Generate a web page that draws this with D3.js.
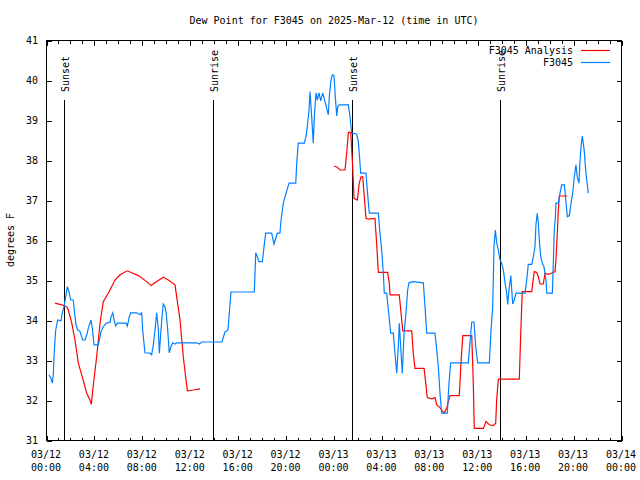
<!DOCTYPE html>
<html>
<head>
<meta charset="utf-8">
<script src="https://cdn.jsdelivr.net/npm/d3@7"></script>
<style>
  html, body { margin: 0; padding: 0; background: #fff; }
  svg { display: block; }
  text { font-family: "DejaVu Sans Mono", monospace; font-size: 10px; fill: #000; }
</style>
</head>
<body>
<svg id="chart" width="640" height="480"></svg>
<script>
// ---- data (hours since 2025-03-12 00:00 UTC, dew point in °F) ----
const titleText = "Dew Point for F3045 on 2025-Mar-12 (time in UTC)";
const yAxisLabel = "degrees F";
const seriesNames = ["F3045 Analysis", "F3045"];
const yTicks = [31, 32, 33, 34, 35, 36, 37, 38, 39, 40, 41];
const xTickHours = [0, 4, 8, 12, 16, 20, 24, 28, 32, 36, 40, 44, 48];
const xTickDates = ["03/12","03/12","03/12","03/12","03/12","03/12","03/13","03/13","03/13","03/13","03/13","03/13","03/14"];
const xTickTimes = ["00:00","04:00","08:00","12:00","16:00","20:00","00:00","04:00","08:00","12:00","16:00","20:00","00:00"];
const sunEvents = ["Sunset", "Sunrise", "Sunset", "Sunrise"];
const sunHours = [1.50, 13.94, 25.54, 37.90];

// Analysis series (null = gap)
const analysisHours = [0.75,1.31,1.73,1.86,2.15,2.42,2.70,2.98,3.40,3.67,3.78,3.95,4.23,4.51,4.78,5.20,5.76,6.18,6.79,7.71,8.41,8.77,9.24,9.79,10.21,10.77,10.91,11.19,11.46,11.66,11.80,12.30,12.86,
  18.0,
  24.04,24.32,24.54,24.96,25.10,25.24,25.44,25.60,25.71,25.99,26.15,26.30,26.44,26.57,26.71,26.91,27.46,27.61,27.74,28.52,28.66,28.72,29.49,29.64,29.78,30.53,30.66,30.80,31.56,31.70,31.83,32.20,32.47,32.62,32.83,33.03,33.23,33.45,33.58,33.73,34.50,34.64,34.79,35.54,35.67,35.75,36.51,36.73,37.01,37.34,37.54,37.62,37.76,39.51,39.63,39.76,40.55,40.63,40.76,40.96,41.10,41.24,41.51,41.66,41.93,42.30,42.49,42.57,42.68,42.77,42.85,43.52];
const analysisValues = [34.42,34.38,34.33,34.25,33.92,33.5,32.92,32.63,32.17,32.0,31.89,32.38,33.08,33.92,34.46,34.67,35.0,35.13,35.23,35.11,34.96,34.86,34.96,35.07,35.0,34.88,34.58,34.0,33.08,32.58,32.23,32.25,32.28,
  null,
  37.85,37.82,37.75,37.75,38.17,38.69,38.69,37.83,37.04,37.0,37.42,37.58,37.58,37.08,36.54,36.52,36.54,35.88,35.19,35.19,34.92,34.63,34.63,34.17,33.73,33.73,33.17,32.79,32.79,32.42,32.06,32.03,32.06,31.88,31.83,31.75,31.67,31.79,31.96,32.11,32.11,32.92,33.61,33.61,32.42,31.29,31.29,31.46,31.38,31.36,31.42,32.0,32.52,32.52,33.67,34.71,34.71,34.92,35.21,35.19,35.08,34.9,34.9,35.17,35.14,35.18,35.21,35.5,36.17,36.75,37.1,37.1];

// Observed series
const obsHours = [0.25,0.42,0.53,0.61,0.67,0.75,0.81,0.98,1.25,1.36,1.50,1.64,1.78,1.92,2.06,2.28,2.36,2.50,2.65,2.84,3.06,3.26,3.40,3.53,3.76,3.87,4.01,4.37,4.45,4.59,4.78,5.01,5.34,5.43,5.57,5.68,5.82,5.95,6.68,6.79,6.95,7.07,7.57,7.85,7.99,8.07,8.26,8.68,8.82,8.96,9.10,9.24,9.38,9.46,9.58,9.71,9.79,9.93,10.02,10.16,10.29,10.43,10.58,10.77,10.91,12.58,12.80,13.00,14.69,14.94,15.19,15.44,17.39,17.51,17.64,17.78,18.06,18.20,18.34,18.84,19.03,19.31,19.53,19.62,19.81,20.04,20.29,20.85,20.93,21.06,21.56,21.70,21.81,21.96,22.04,22.18,22.31,22.40,22.54,22.65,22.79,22.93,23.10,23.29,23.43,23.57,23.65,23.79,23.90,24.04,24.15,24.27,24.35,24.48,25.24,25.38,25.52,25.94,26.07,26.15,26.27,26.71,26.82,26.99,27.74,27.88,28.02,28.16,28.24,28.44,28.58,28.72,28.77,28.99,29.13,29.28,29.41,29.49,29.61,29.74,29.89,30.05,30.19,30.30,30.66,31.50,31.64,31.78,32.47,32.62,32.75,32.89,33.03,33.50,33.64,33.78,35.25,35.39,35.54,35.73,35.87,36.04,37.01,37.15,37.29,37.40,37.51,37.63,37.76,37.90,38.04,38.18,38.32,38.46,38.54,38.65,38.80,38.88,38.96,39.09,39.24,39.99,40.13,40.26,40.55,40.68,40.82,40.90,41.01,41.10,41.18,41.30,41.43,41.57,41.74,41.80,42.27,42.35,42.43,42.52,42.57,42.77,42.91,43.05,43.27,43.39,43.52,43.69,43.83,43.97,44.10,44.24,44.35,44.49,44.57,44.66,44.77,44.85,44.94,45.05,45.14,45.27];
const obsValues = [32.63,32.54,32.42,32.63,33.08,33.5,33.75,34.0,33.98,34.17,34.33,34.58,34.83,34.71,34.5,34.5,34.25,33.88,33.75,33.71,33.5,33.5,33.63,33.79,34.0,33.79,33.38,33.38,33.5,33.71,33.83,33.92,33.94,34.08,34.18,34.0,33.85,33.92,33.92,33.85,34.08,34.18,34.18,34.13,34.18,33.75,33.18,33.17,33.13,33.38,33.75,34.18,33.75,33.17,33.67,34.17,34.4,34.33,34.21,33.75,33.18,33.33,33.43,33.4,33.43,33.43,33.4,33.45,33.45,33.7,33.75,34.7,34.7,35.68,35.58,35.46,35.46,35.83,36.17,36.17,35.9,36.17,36.17,36.5,36.92,37.17,37.42,37.42,37.92,38.42,38.42,38.58,38.83,39.25,39.71,39.08,38.42,39.08,39.68,39.5,39.68,39.48,39.68,39.46,39.29,39.13,39.58,40.0,40.13,40.11,39.58,39.1,39.33,39.38,39.38,39.08,38.67,38.65,38.46,38.17,37.67,37.67,37.25,36.67,36.67,36.17,35.75,35.17,34.67,34.67,34.25,33.83,33.67,33.67,33.17,32.67,33.33,33.92,33.33,32.67,33.67,34.17,34.75,34.93,34.96,34.93,34.33,33.67,33.67,33.25,32.83,32.17,31.67,31.67,32.42,32.93,32.93,33.42,33.95,33.95,33.33,32.93,32.93,33.75,34.33,35.83,36.25,35.92,35.75,35.5,35.42,35.25,34.92,34.67,34.39,34.75,35.11,34.75,34.4,34.5,34.67,34.67,35.0,35.39,35.39,35.58,35.83,36.38,36.67,36.42,36.0,35.58,35.42,35.33,35.0,34.67,34.67,35.42,36.25,36.54,36.92,36.92,37.17,37.38,37.38,37.0,36.58,36.61,36.92,37.17,37.58,37.88,37.58,37.42,37.92,38.33,38.6,38.42,38.21,37.75,37.5,37.17];

const seriesColors = ["#ff0000", "#0080ff"];

// ---- layout ----
const svg = d3.select("#chart");
const L = 46, R = 621, T = 40, B = 440;
const x = d3.scaleLinear().domain([0, 48]).range([L, R]);
const y = d3.scaleLinear().domain([31, 41]).range([B, T]);

// frame
svg.append("rect").attr("x", L + 0.5).attr("y", T + 0.5)
  .attr("width", R - L).attr("height", B - T)
  .attr("fill", "none").attr("stroke", "#000").attr("shape-rendering", "crispEdges");

// ticks via d3 axes (inward), with mirrored copies
const minorHours = d3.range(0, 49, 1).filter(h => h % 4 !== 0);
function tickAxis(gen, tx, ty) {
  const g = svg.append("g").attr("transform", `translate(${tx},${ty})`).call(gen);
  g.select(".domain").remove();
  g.selectAll("text").remove();
  g.selectAll("line").attr("stroke", "#000").attr("shape-rendering", "crispEdges");
  return g;
}
tickAxis(d3.axisBottom(x).tickValues(xTickHours).tickSize(-5), 0.5, B + 0.5);
tickAxis(d3.axisBottom(x).tickValues(minorHours).tickSize(-3), 0.5, B + 0.5);
tickAxis(d3.axisTop(x).tickValues(xTickHours).tickSize(-5), 0.5, T + 0.5);
tickAxis(d3.axisTop(x).tickValues(minorHours).tickSize(-3), 0.5, T + 0.5);
tickAxis(d3.axisLeft(y).tickValues(yTicks).tickSize(-5), L + 0.5, 0.5);
tickAxis(d3.axisRight(y).tickValues(yTicks).tickSize(-5), R + 0.5, 0.5);

// x tick labels (two lines)
const xl = svg.append("g");
xTickHours.forEach((h, i) => {
  const t = xl.append("text").attr("x", x(h)).attr("y", 457).attr("text-anchor", "middle");
  t.append("tspan").attr("x", x(h)).attr("y", 458).text(xTickDates[i]);
  t.append("tspan").attr("x", x(h)).attr("y", 471).text(xTickTimes[i]);
});

// y tick labels
svg.append("g").selectAll("text").data(yTicks).join("text")
  .attr("x", 38).attr("y", d => y(d)).attr("dy", "0.35em")
  .attr("text-anchor", "end").text(d => d);

// y axis label
svg.append("text").attr("transform", "translate(10,240) rotate(-90)")
  .attr("text-anchor", "middle").attr("dy", "0.35em").text(yAxisLabel);

// title
svg.append("text").attr("x", 334).attr("y", 20).attr("dy", "0.35em")
  .attr("text-anchor", "middle").text(titleText);

// sunrise / sunset lines
sunHours.forEach((h, i) => {
  const px = Math.round(x(h)) + 0.5;
  svg.append("line").attr("x1", px).attr("x2", px).attr("y1", y(39.5)).attr("y2", B)
    .attr("stroke", "#000").attr("shape-rendering", "crispEdges");
  svg.append("text").attr("transform", `translate(${px + 0.5},92) rotate(-90)`)
    .attr("dy", "0.35em").attr("text-anchor", "start").text(sunEvents[i]);
});

// series lines
const line = d3.line()
  .defined(d => d[1] !== null)
  .x(d => x(d[0])).y(d => y(d[1]));

const analysisData = analysisHours.map((h, i) => [h, analysisValues[i]]);
const obsData = obsHours.map((h, i) => [h, obsValues[i]]);

svg.append("path").datum(analysisData).attr("d", line)
  .attr("fill", "none").attr("stroke", seriesColors[0]).attr("stroke-width", 1.2);
svg.append("path").datum(obsData).attr("d", line)
  .attr("fill", "none").attr("stroke", seriesColors[1]).attr("stroke-width", 1.2);

// legend
seriesNames.forEach((name, i) => {
  const ly = 50 + i * 12;
  svg.append("text").attr("x", 573).attr("y", ly).attr("dy", "0.35em")
    .attr("text-anchor", "end").text(name);
  svg.append("line").attr("x1", 581).attr("x2", 610).attr("y1", ly + 0.5).attr("y2", ly + 0.5)
    .attr("stroke", seriesColors[i]).attr("stroke-width", 1.2);
});
</script>
</body>
</html>
